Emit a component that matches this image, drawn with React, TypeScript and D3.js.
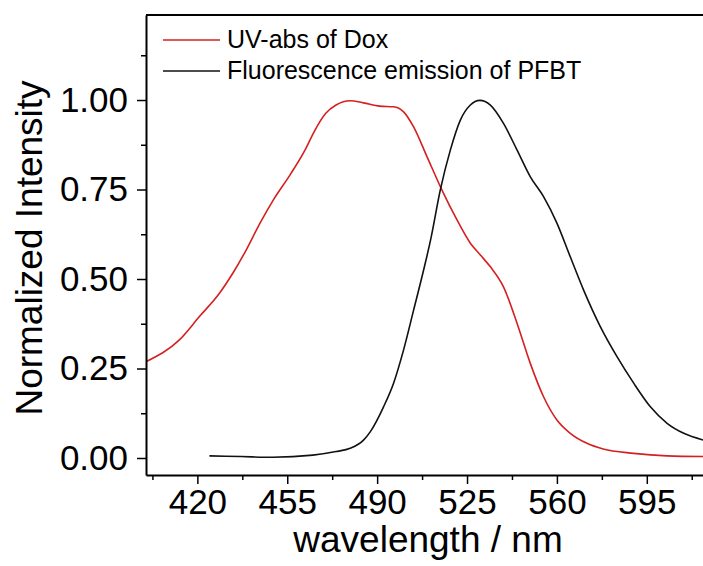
import React, { useEffect, useRef } from 'react';
import * as d3 from 'd3';

// UV-abs of Dox
const doxWavelength = [400, 413, 420.8, 428.6, 433.8, 439, 444.4, 449.6, 456.1, 461.9, 465.5, 470, 474, 479.5, 484.7, 491, 496.4, 500.3, 504.2, 509.4, 515.2, 521.1, 526.3, 530.2, 534.1, 539.2, 544.5, 549.6, 554.8, 560, 565.2, 571.7, 578, 589.9, 602.9, 617];
const doxIntensity = [0.269, 0.33, 0.395, 0.46, 0.516, 0.581, 0.656, 0.721, 0.791, 0.86, 0.912, 0.963, 0.986, 0.998, 0.992, 0.983, 0.981, 0.967, 0.925, 0.842, 0.749, 0.665, 0.6, 0.567, 0.534, 0.478, 0.376, 0.265, 0.171, 0.106, 0.069, 0.041, 0.025, 0.013, 0.006, 0.004];

// Fluorescence emission of PFBT
const pfbtWavelength = [424.7, 437, 449.4, 465, 474, 479.5, 484.7, 487.3, 492.5, 496.4, 500.3, 504.2, 508.1, 510.9, 514.6, 518.5, 522.4, 526.3, 530, 534.1, 539.2, 544.5, 549.6, 554.8, 560, 565.2, 570.4, 576.9, 583.4, 589.9, 596.4, 602.9, 609.4, 617];
const pfbtIntensity = [0.006, 0.004, 0.002, 0.008, 0.018, 0.027, 0.05, 0.073, 0.143, 0.209, 0.302, 0.413, 0.525, 0.612, 0.749, 0.86, 0.944, 0.986, 0.999, 0.986, 0.935, 0.86, 0.786, 0.73, 0.656, 0.562, 0.469, 0.367, 0.283, 0.209, 0.143, 0.097, 0.069, 0.05];

const xTicks = [420, 455, 490, 525, 560, 595];
const yTicks = [0, 0.25, 0.5, 0.75, 1.0];

const seriesNames = ['UV-abs of Dox', 'Fluorescence emission of PFBT'];
const seriesColors = ['#d42020', '#111111'];

const App = () => {
    const svgRef = useRef<SVGSVGElement>(null);

    useEffect(() => {
        const width = 703;
        const height = 566;
        const left = 146, right = 711, top = 15, bottom = 475;

        const svg = d3.select(svgRef.current)
            .attr('width', width)
            .attr('height', height);
        svg.selectAll('*').remove();

        const x = d3.scaleLinear().domain([400, 620]).range([left, right]);
        const y = d3.scaleLinear().domain([-0.0475, 1.2375]).range([bottom, top]);

        svg.append('defs').append('clipPath').attr('id', 'plot')
            .append('rect')
            .attr('x', left).attr('y', top)
            .attr('width', right - left).attr('height', bottom - top);

        const font = 'Liberation Sans, Arial, sans-serif';

        // curves
        const line = d3.line<[number, number]>()
            .x(d => x(d[0]))
            .y(d => y(d[1]))
            .curve(d3.curveMonotoneX);

        const series = [
            d3.zip(doxWavelength, doxIntensity) as [number, number][],
            d3.zip(pfbtWavelength, pfbtIntensity) as [number, number][],
        ];
        const g = svg.append('g').attr('clip-path', 'url(#plot)');
        series.forEach((s, i) => {
            g.append('path')
                .datum(s)
                .attr('d', line)
                .attr('fill', 'none')
                .attr('stroke', seriesColors[i])
                .attr('stroke-width', 1.6);
        });

        // bottom axis
        const xAxis = svg.append('g')
            .attr('transform', `translate(0,${bottom})`)
            .call(d3.axisBottom(x).tickValues(xTicks).tickSize(9).tickSizeOuter(0).tickPadding(5));
        xAxis.select('.domain').attr('stroke-width', 2);
        xAxis.selectAll('.tick line').attr('stroke-width', 1.5);
        xAxis.selectAll('text')
            .attr('font-family', font)
            .attr('font-size', 35)
            .attr('fill', '#000');
        svg.append('g')
            .attr('transform', `translate(0,${bottom})`)
            .call(d3.axisBottom(x).tickValues(d3.range(402.5, 620, 35)).tickSize(5).tickSizeOuter(0).tickFormat(() => ''))
            .call(a => a.select('.domain').remove())
            .selectAll('line').attr('stroke-width', 1.5);

        // left axis
        const yAxis = svg.append('g')
            .attr('transform', `translate(${left},0)`)
            .call(d3.axisLeft(y).tickValues(yTicks).tickSize(9).tickSizeOuter(0).tickPadding(9).tickFormat(d3.format('.2f')));
        yAxis.select('.domain').attr('stroke-width', 2);
        yAxis.selectAll('.tick line').attr('stroke-width', 1.5);
        yAxis.selectAll('text')
            .attr('font-family', font)
            .attr('font-size', 35)
            .attr('fill', '#000');
        svg.append('g')
            .attr('transform', `translate(${left},0)`)
            .call(d3.axisLeft(y).tickValues([0.125, 0.375, 0.625, 0.875, 1.125]).tickSize(5).tickSizeOuter(0).tickFormat(() => ''))
            .call(a => a.select('.domain').remove())
            .selectAll('line').attr('stroke-width', 1.5);

        // top frame
        svg.append('line')
            .attr('x1', left).attr('x2', right)
            .attr('y1', top).attr('y2', top)
            .attr('stroke', '#000').attr('stroke-width', 2);

        // axis titles
        svg.append('text')
            .attr('x', 428)
            .attr('y', 552)
            .attr('text-anchor', 'middle')
            .attr('font-family', font)
            .attr('font-size', 37)
            .text('wavelength / nm');

        svg.append('text')
            .attr('transform', `translate(42,${248}) rotate(-90)`)
            .attr('text-anchor', 'middle')
            .attr('font-family', font)
            .attr('font-size', 37)
            .text('Normalized Intensity');

        // legend
        seriesNames.forEach((name, i) => {
            const ly = 40 + i * 31;
            svg.append('line')
                .attr('x1', 163).attr('x2', 220)
                .attr('y1', ly).attr('y2', ly)
                .attr('stroke', seriesColors[i])
                .attr('stroke-width', 1.6);
            svg.append('text')
                .attr('x', 227)
                .attr('y', ly + 8)
                .attr('font-family', font)
                .attr('font-size', 25)
                .text(name);
        });
    }, []);

    return (
        <div>
            <svg ref={svgRef} style={{ position: 'absolute', left: 0, top: 0 }}></svg>
        </div>
    );
};

export default App;
